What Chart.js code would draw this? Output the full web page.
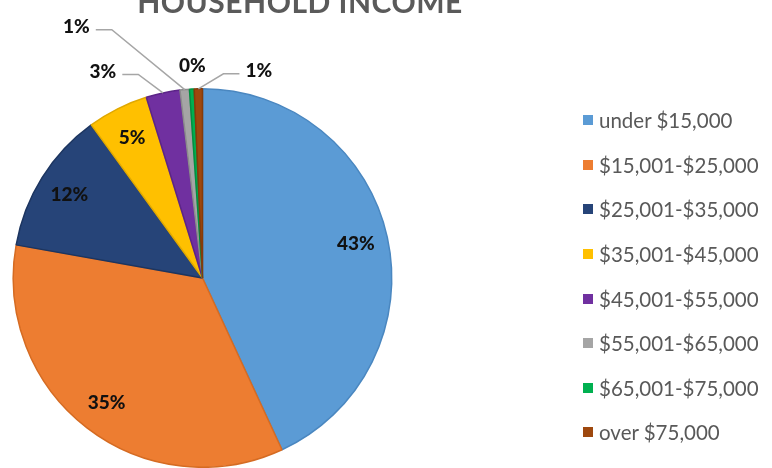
<!DOCTYPE html>
<html>
<head>
<meta charset="utf-8">
<script src="https://cdn.jsdelivr.net/npm/chart.js@4/dist/chart.umd.min.js"></script>
<style>
  html, body { margin: 0; padding: 0; background: #fff; }
  #wrap { position: relative; width: 772px; height: 468px; overflow: hidden; }
  #title {
    position: absolute; left: 0; width: 600px; top: -17px;
    text-align: center; font: bold 30px Lato, sans-serif; color: #5a5a5a;
    letter-spacing: 0.5px;
  }
  #legend { position: absolute; left: 583px; top: 98px; font: 20.5px Lato, sans-serif; color: #595959; }
  .item { display: flex; align-items: center; height: 44.6px; }
  .box { width: 10px; height: 10px; margin-right: 6px; }
</style>
</head>
<body>
<div id="wrap">
  <canvas id="incomeChart" width="772" height="468"></canvas>
  <div id="title">HOUSEHOLD INCOME</div>
  <div id="legend"></div>
</div>
<script>
// income brackets and share of households (%)
const brackets = [
  "under $15,000",
  "$15,001-$25,000",
  "$25,001-$35,000",
  "$35,001-$45,000",
  "$45,001-$55,000",
  "$55,001-$65,000",
  "$65,001-$75,000",
  "over $75,000",
];
const shares = [43.1, 34.7, 12.2, 5.2, 2.9, 0.8, 0.4, 0.7];

const sliceColors = ["#5b9bd5", "#ed7d31", "#264478", "#ffc000", "#7030a0", "#a5a5a5", "#00b050", "#9e480e"];
const edgeColors = ["#4a87c0", "#d56b22", "#1c3560", "#e0a800", "#5c2488", "#8c8c8c", "#009040", "#853b0a"];

// small slices get their label pulled outside, nudged like the original callouts
const calloutNudge = { 4: [-55, 2], 5: [-106, -39], 6: [2, 1], 7: [61, 6] };

const pctLabels = {
  id: "pctLabels",
  afterDatasetsDraw: (chart) => {
    const ctx = chart.ctx;
    const meta = chart.getDatasetMeta(0);
    const total = shares.reduce((a, b) => a + b, 0);
    ctx.save();
    ctx.font = "900 19px Lato, sans-serif";
    ctx.textAlign = "center";
    ctx.textBaseline = "middle";
    meta.data.forEach((arc, i) => {
      const { x, y, startAngle, endAngle, outerRadius } = arc.getProps(
        ["x", "y", "startAngle", "endAngle", "outerRadius"], true);
      const mid = (startAngle + endAngle) / 2;
      const text = Math.round((shares[i] / total) * 100) + "%";
      let lx, ly;
      if (!calloutNudge[i]) {
        lx = x + Math.cos(mid) * outerRadius * 0.83;
        ly = y + Math.sin(mid) * outerRadius * 0.83;
      } else {
        const n = calloutNudge[i];
        lx = x + Math.cos(mid) * (outerRadius + 24) + n[0];
        ly = y + Math.sin(mid) * (outerRadius + 24) + n[1];
        // leader line for labels moved away from their slice
        if (Math.abs(n[0]) > 20) {
          const w = ctx.measureText(text).width / 2;
          const side = n[0] < 0 ? 1 : -1;
          const sx = lx + side * (w + 6);
          const ex = x + Math.cos(mid) * outerRadius;
          const ey = y + Math.sin(mid) * outerRadius;
          ctx.strokeStyle = "#a6a6a6";
          ctx.lineWidth = 1.5;
          ctx.beginPath();
          ctx.moveTo(sx, ly + 3);
          ctx.lineTo(sx + side * 16, ly + 3);
          ctx.lineTo(ex, ey);
          ctx.stroke();
        }
      }
      ctx.fillStyle = "#111";
      ctx.fillText(text, lx, ly);
    });
    ctx.restore();
  },
};

const chart = new Chart(document.getElementById("incomeChart"), {
  type: "pie",
  data: {
    labels: brackets,
    datasets: [{
      data: shares,
      backgroundColor: sliceColors,
      borderColor: edgeColors,
      borderWidth: 1.5,
    }],
  },
  options: {
    responsive: false,
    animation: false,
    layout: { padding: { top: 88, left: 12, right: 379, bottom: 0 } },
    plugins: {
      legend: { display: false },
      tooltip: { enabled: false },
    },
  },
  plugins: [pctLabels],
});

// html legend built from the chart's own legend items
const legendEl = document.getElementById("legend");
chart.options.plugins.legend.labels.generateLabels(chart).forEach((item) => {
  const row = document.createElement("div");
  row.className = "item";
  row.innerHTML = `<span class="box" style="background:${item.fillStyle}"></span><span>${item.text}</span>`;
  legendEl.appendChild(row);
});
</script>
</body>
</html>
